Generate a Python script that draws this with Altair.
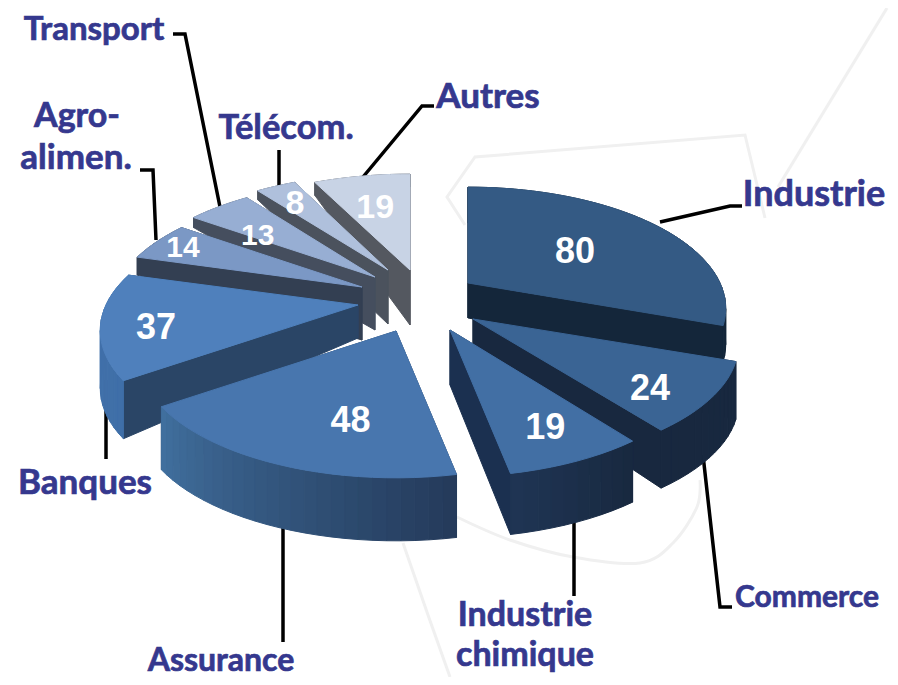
import altair as alt
import numpy as np
import pandas as pd

# ---- data ----
categories = ["Industrie", "Commerce", "Industrie chimique", "Assurance", "Banques",
              "Agro-alimen.", "Transport", "Télécom.", "Autres"]
values = [80, 24, 19, 48, 37, 14, 13, 8, 19]

# ---- layout of the exploded, tilted pie ----
apex_x = [468, 473, 450, 396, 358, 362, 375, 388, 410]
apex_y = [283, 319, 330, 331, 305, 287, 277, 270, 270]
rx_scale = [1.0, 1.03, 1.0, 1.0, 1.0, 0.98, 0.985, 1.0, 1.02]
rim_depth = [36, 58, 61, 63, 58, 18, 10, 9, 13]
apex_depth = [35, 45, 55, 50, 33, 53, 53, 54, 55]
label_frac = [0.56, 0.80, 0.75, 0.55, 0.80, 0.86, 0.72, 0.83, 0.68]
label_dx = [4, -14, 0, 19, 4, -3, -5, 0, -2]
label_dy = [2, 7, 0, 17, 7, 0, 10, 4, 2]
label_size = [36, 36, 36, 36, 36, 30, 30, 34, 34]
top_fill = ["#345a84", "#3a6494", "#426fa4", "#4876ae", "#4f80bc", "#7b98c5", "#97aed3", "#afc0dc", "#c8d3e5"]
cut_fill = ["#14263a", "#18283f", "#1b3050", "#2a4566", "#2a4566", "#333f52", "#454e5e", "#4b525d", "#545860"]
rim_start = ["#14263a", "#18283f", "#18283f", "#243a5a", "#3f6fa8", "#333f52", "#454e5e", "#4b525d", "#545860"]
rim_end = ["#14263a", "#18283f", "#1f3554", "#41709f", "#4373ab", "#333f52", "#454e5e", "#4b525d", "#545860"]
draw_order = [8, 7, 6, 5, 0, 1, 4, 2, 3]
RX, RY, PERSP = 252.0, 116.0, 0.21

outer_labels = ["Transport", "Agro-", "alimen.", "Télécom.", "Autres", "Industrie",
                "Commerce", "Industrie", "chimique", "Assurance", "Banques"]
outer_x = [94, 77, 76, 286, 488, 814, 807, 525, 525, 221, 85]
outer_y = [30, 117, 158, 129, 97, 195, 598, 616, 656, 661, 483]
outer_size = [33, 34, 35, 34.5, 35, 36, 30, 34, 34, 32, 35]

leaders = [
    [(173, 34), (185, 34), (220, 207)],
    [(140, 170), (153, 170), (156, 240)],
    [(279, 150), (279, 190)],
    [(434, 106), (422, 106), (363, 177)],
    [(742, 206), (730, 206), (660, 222)],
    [(703, 455), (720, 607), (732, 607)],
    [(574, 522), (574, 596)],
    [(283, 525), (283, 642)],
    [(106, 380), (106, 459)],
]
watermark = [
    [(465, 225), (447, 197), (475, 157), (745, 135), (765, 218)],
    [(778, 187), (887, 8)],
    [(403, 543), (428, 615), (450, 677)],
]
watermark_curve = [(457, 517), (510, 540), (573, 557), (640, 563), (673, 543), (697, 507), (700, 480)]


def hex2rgb(h):
    return np.array([int(h[i:i + 2], 16) for i in (1, 3, 5)], float)


def mix(a, b, t):
    c = hex2rgb(a) * (1 - t) + hex2rgb(b) * t
    return "#%02x%02x%02x" % tuple(int(round(v)) for v in c)


def rim_point(i, deg, frac=1.0):
    th = np.radians(deg)
    s = 1.0 / (1.0 + PERSP * np.cos(th))
    return (apex_x[i] + frac * RX * rx_scale[i] * np.sin(th) * s,
            apex_y[i] - frac * RY * np.cos(th) * s)


total = float(sum(values))
edges = np.concatenate([[0.0], np.cumsum(values) / total * 360.0])

rows = []
poly_id = [0]


def add_poly(points, fill):
    pts = list(points) + [points[0]]
    pid = poly_id[0]
    poly_id[0] += 1
    for k, (x, y) in enumerate(pts):
        rows.append({"poly": pid, "k": k, "x": x, "y": y, "fill": fill})


for i in draw_order:
    a0, a1 = edges[i], edges[i + 1]
    n = max(4, int((a1 - a0) / 2.5))
    angles = np.linspace(a0, a1, n + 1)
    rim = [rim_point(i, a) for a in angles]
    ax, ay = apex_x[i], apex_y[i]
    hr, ha = rim_depth[i], apex_depth[i]
    quads = []
    for end in (rim[0], rim[-1]):
        quads.append(([(ax, ay), end, (end[0], end[1] + hr), (ax, ay + ha)], cut_fill[i]))
    for j in range(n):
        p, q = rim[j], rim[j + 1]
        quads.append(([p, q, (q[0], q[1] + hr), (p[0], p[1] + hr)],
                      mix(rim_start[i], rim_end[i], (j + 0.5) / n)))
    quads.sort(key=lambda t: np.mean([pt[1] for pt in t[0]]))
    for pts, col in quads:
        add_poly(pts, col)
    add_poly([(ax, ay)] + rim, top_fill[i])

poly_df = pd.DataFrame(rows)

xs = alt.X("x:Q", scale=alt.Scale(domain=[8, 890]), axis=None)
ys = alt.Y("y:Q", scale=alt.Scale(domain=[677, 8]), axis=None)


def path_table(paths):
    out = []
    for pid, path in enumerate(paths):
        for k, (x, y) in enumerate(path):
            out.append({"id": pid, "k": k, "x": x, "y": y})
    return pd.DataFrame(out)


water = alt.Chart(path_table(watermark)).mark_line(
    stroke="#f0f0f0", strokeWidth=3
).encode(x=xs, y=ys, detail="id:N", order="k:Q")

water_curve = alt.Chart(path_table([watermark_curve])).mark_line(
    stroke="#f0f0f0", strokeWidth=3, interpolate="cardinal"
).encode(x=xs, y=ys, detail="id:N", order="k:Q")

leader = alt.Chart(path_table(leaders)).mark_line(
    stroke="#000000", strokeWidth=3.5, strokeJoin="miter"
).encode(x=xs, y=ys, detail="id:N", order="k:Q")

pie = alt.Chart(poly_df).mark_line(strokeWidth=1).encode(
    x=xs, y=ys, detail="poly:N", order="k:Q",
    fill=alt.Fill("fill:N", scale=None),
    stroke=alt.Stroke("fill:N", scale=None),
)

val_rows = []
for i, v in enumerate(values):
    lx, ly = rim_point(i, (edges[i] + edges[i + 1]) / 2, label_frac[i])
    val_rows.append({"x": lx + label_dx[i], "y": ly + label_dy[i], "t": str(v), "fs": label_size[i]})

value_text = alt.Chart(pd.DataFrame(val_rows)).mark_text(
    font="Liberation Sans", fontWeight="bold", color="#ffffff", baseline="middle", align="center"
).encode(x=xs, y=ys, text="t:N", size=alt.Size("fs:Q", scale=None))

outer_text = alt.Chart(pd.DataFrame({
    "x": outer_x, "y": outer_y, "t": outer_labels, "fs": outer_size, "o": range(len(outer_x))
})).mark_text(
    font="Lato", fontWeight="bold", color="#35388e", stroke="#35388e", strokeWidth=0.7,
    baseline="middle", align="center"
).encode(x=xs, y=ys, text="t:N", detail="o:N", size=alt.Size("fs:Q", scale=None))

chart = alt.layer(water, water_curve, leader, pie, value_text, outer_text).properties(
    width=882, height=669, padding=0,
    autosize=alt.AutoSizeParams(type="none"),
    background="#ffffff",
).configure_view(stroke=None)

chart.save("out.html", embed_options={"renderer": "svg", "actions": False})
